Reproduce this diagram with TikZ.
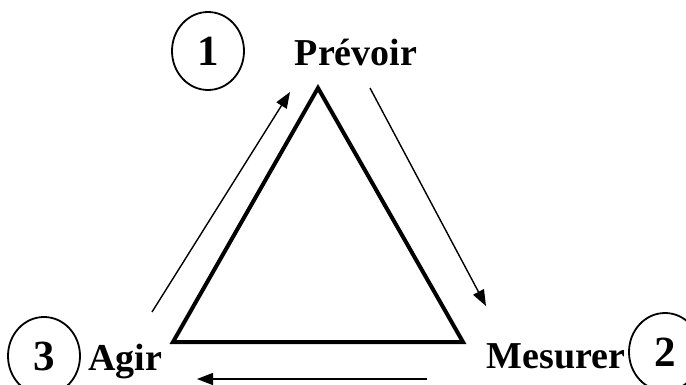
\documentclass[tikz,border=0pt]{standalone}
\usepackage{fontspec}
\setmainfont{Liberation Serif}
\usetikzlibrary{arrows.meta,shapes.geometric}

\begin{document}
\begin{tikzpicture}[
        x=1pt, y=-1pt,
        every node/.style={font=\bfseries\fontsize{38}{40}\selectfont, inner sep=0pt},
        word/.style={anchor=base},
        num/.style={draw, ellipse, line width=1.8pt, minimum width=72pt, minimum height=78pt,
                    font=\bfseries\fontsize{43}{44}\selectfont},
        flow/.style={-{Triangle[length=16pt,width=12pt]}, line width=1.4pt}
    ]
        \useasboundingbox (0,0) rectangle (686,385);
        \coordinate (top)   at (318,88);
        \coordinate (left)  at (173,342);
        \coordinate (right) at (463,342);
        \draw[line width=4pt, line join=miter] (top) -- (right) -- (left) -- cycle;

        \node[word] (prev) at (356,66)  {Prévoir};
        \node[word] (mes)  at (556,368) {Mesurer};
        \node[word] (agir) at (125,370) {Agir};

        \node[num] (n1) at (208,51)  {1};
        \node[num] (n2) at (665,352) {2};
        \node[num] (n3) at (44,356)  {3};

        \coordinate (a1) at (370,88);  \coordinate (b1) at (486,306);
        \coordinate (a2) at (427,379); \coordinate (b2) at (197,379);
        \coordinate (a3) at (152,312); \coordinate (b3) at (290,92);
        \draw[flow] (a1) -- (b1);
        \draw[flow] (a2) -- (b2);
        \draw[flow] (a3) -- (b3);
    \end{tikzpicture}
\end{document}
